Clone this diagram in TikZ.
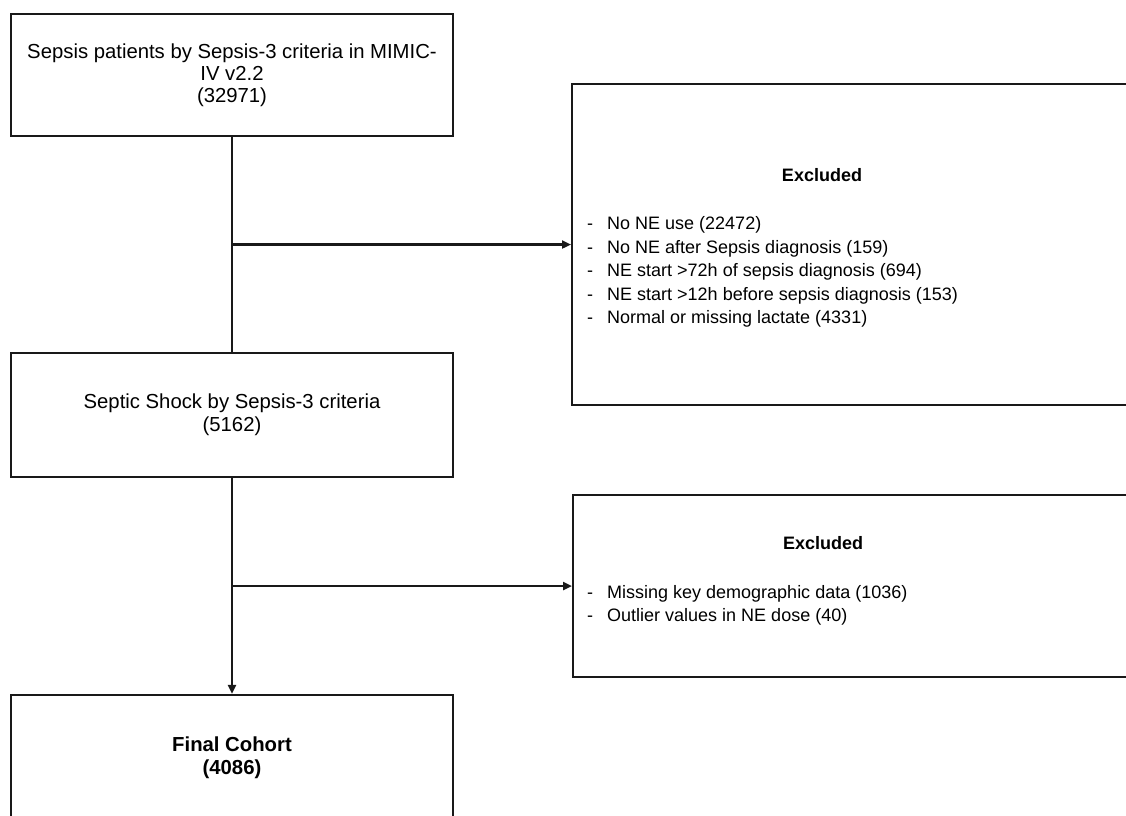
\documentclass[tikz,border=0pt]{standalone}
\usepackage{fontspec}
\setmainfont{Liberation Sans}
\usetikzlibrary{arrows.meta}
\begin{document}
\begin{tikzpicture}[x=1pt,y=-1pt,
  box/.style={draw=black!90,line width=2.2pt,rectangle,inner sep=0pt,align=center,
    font=\fontsize{20.3}{22}\selectfont},
  title/.style={font=\bfseries\fontsize{18}{22}\selectfont,inner sep=0pt},
  items/.style={font=\fontsize{18}{23.5}\selectfont,align=left,inner sep=0pt},
  conn/.style={line width=2.2pt,draw=black!90},
  arr/.style={conn,-{Triangle[length=9pt,width=8pt]}}]
\clip (0,0) rectangle (1126,815);
\fill[white] (0,0) rectangle (1126,815);
% main boxes
\node[box,minimum width=442pt,minimum height=122pt] (b1) at (232,75)
  {Sepsis patients by Sepsis-3 criteria in MIMIC-\\IV v2.2\\(32971)};
\node[box,minimum width=442pt,minimum height=124pt,font=\fontsize{20.3}{23}\selectfont] (b2) at (232,415)
  {Septic Shock by Sepsis-3 criteria\\(5162)};
\node[box,minimum width=442pt,minimum height=126pt,font=\bfseries\fontsize{20.3}{23}\selectfont] (b3) at (232,758)
  {Final Cohort\\(4086)};
% exclusion boxes
\node[box,minimum width=600pt,minimum height=321pt,anchor=west] (e1) at (571,244.5) {};
\node[title] (e1t) at (822,175) {Excluded};
\node[items,anchor=base west] (e1l) at (587,323.5)
  {\makebox[20pt][l]{-}No NE use (22472)\\
   \makebox[20pt][l]{-}No NE after Sepsis diagnosis (159)\\
   \makebox[20pt][l]{-}NE start >72h of sepsis diagnosis (694)\\
   \makebox[20pt][l]{-}NE start >12h before sepsis diagnosis (153)\\
   \makebox[20pt][l]{-}Normal or missing lactate (4331)};
\node[box,minimum width=600pt,minimum height=182pt,anchor=west] (e2) at (572,586) {};
\node[title] (e2t) at (823,543) {Excluded};
\node[items,anchor=base west] (e2l) at (587,621.5)
  {\makebox[20pt][l]{-}Missing key demographic data (1036)\\
   \makebox[20pt][l]{-}Outlier values in NE dose (40)};
% connectors
\draw[conn] (b1.south) -- (b2.north);
\draw[arr] (b1.south |- e1.west) -- (e1.west);
\draw[arr] (b2.south) -- (b3.north);
\draw[arr] (b2.south |- e2.west) -- (e2.west);
\end{tikzpicture}
\end{document}
